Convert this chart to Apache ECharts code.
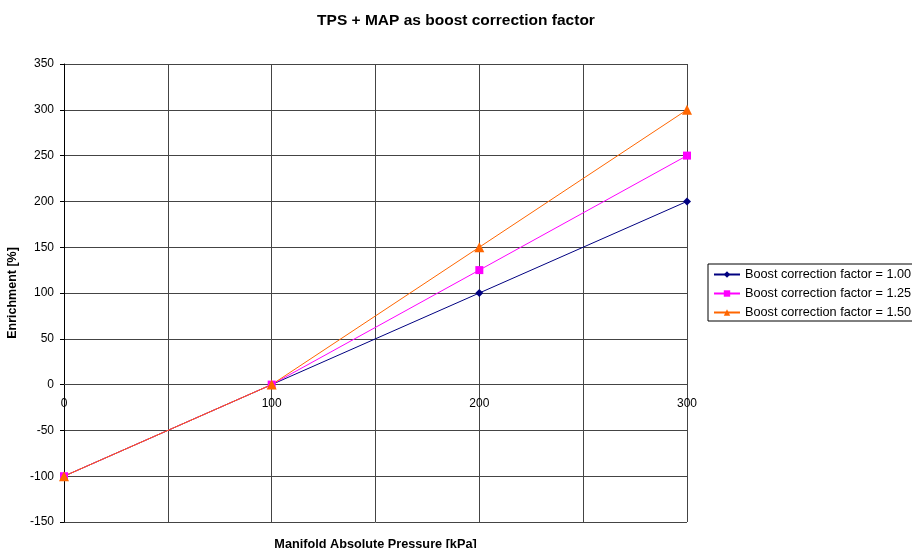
<!DOCTYPE html>
<html><head><meta charset="utf-8">
<script src="https://cdn.jsdelivr.net/npm/echarts@6/dist/echarts.min.js"></script>
<style>html,body{margin:0;padding:0;background:#fff}#c{width:912px;height:548px}</style>
</head><body><div id="c"></div>
<script>
const pressure = [0, 100, 200, 300];
const factor100 = [-100, 0, 100, 200];
const factor125 = [-100, 0, 125, 250];
const factor150 = [-100, 0, 150, 300];
const names = ['Boost correction factor = 1.00', 'Boost correction factor = 1.25', 'Boost correction factor = 1.50'];
const colors = ['#000080', '#FF00FF', '#FF6600'];
const symbols = ['diamond', 'rect', 'triangle'];
const symbolSizes = [8, 8, 10];
const seriesVals = [factor100, factor125, factor150];

const chart = echarts.init(document.getElementById('c'));
const font = 'Liberation Sans, Arial, sans-serif';
const gridColor = '#444';
chart.setOption({
  animation: false,
  textStyle: { fontFamily: font },
  title: { text: 'TPS + MAP as boost correction factor', left: 451, textAlign: 'center', top: 8,
    textStyle: { fontSize: 15.5, fontWeight: 'bold', color: '#000', fontFamily: font } },
  grid: { left: 64, right: 225, top: 64, bottom: 26, outerBoundsMode: 'none' },
  legend: {
    orient: 'vertical', left: 708, top: 264, padding: [4, 4, 2, 5],
    borderColor: '#000', borderWidth: 1, itemGap: 6, itemWidth: 26, itemHeight: 8,
    textStyle: { fontSize: 12.7, color: '#000', fontFamily: font },
    data: names
  },
  xAxis: {
    type: 'value', min: 0, max: 300, interval: 50,
    offset: -138,
    name: 'Manifold Absolute Pressure [kPa]', nameLocation: 'middle', nameGap: 154,
    nameTextStyle: { fontSize: 12.7, fontWeight: 'bold', color: '#000' },
    axisLine: { onZero: false, lineStyle: { color: gridColor, width: 1 } },
    axisTick: { show: false },
    axisLabel: { fontSize: 12, color: '#000', margin: 14,
      formatter: v => (v % 100 === 0 ? String(v) : '') },
    splitLine: { show: true, lineStyle: { color: gridColor, width: 1 } }
  },
  yAxis: {
    type: 'value', min: -150, max: 350, interval: 50,
    name: 'Enrichment [%]', nameLocation: 'middle', nameGap: 39, nameRotate: 90,
    nameTextStyle: { fontSize: 12.5, fontWeight: 'bold', color: '#000' },
    axisLine: { show: true, lineStyle: { color: '#000', width: 1 } },
    axisTick: { show: true, length: 4, lineStyle: { color: '#000' } },
    axisLabel: { fontSize: 12, color: '#000', margin: 10 },
    splitLine: { show: true, lineStyle: { color: gridColor, width: 1 } }
  },
  series: seriesVals.map((vals, i) => ({
    name: names[i], type: 'line',
    data: pressure.map((x, j) => [x, vals[j]]),
    symbol: symbols[i], symbolSize: symbolSizes[i],
    showSymbol: true,
    itemStyle: { color: colors[i], borderWidth: 0 },
    lineStyle: { color: colors[i], width: 1 }
  }))
});
</script>
</body></html>
